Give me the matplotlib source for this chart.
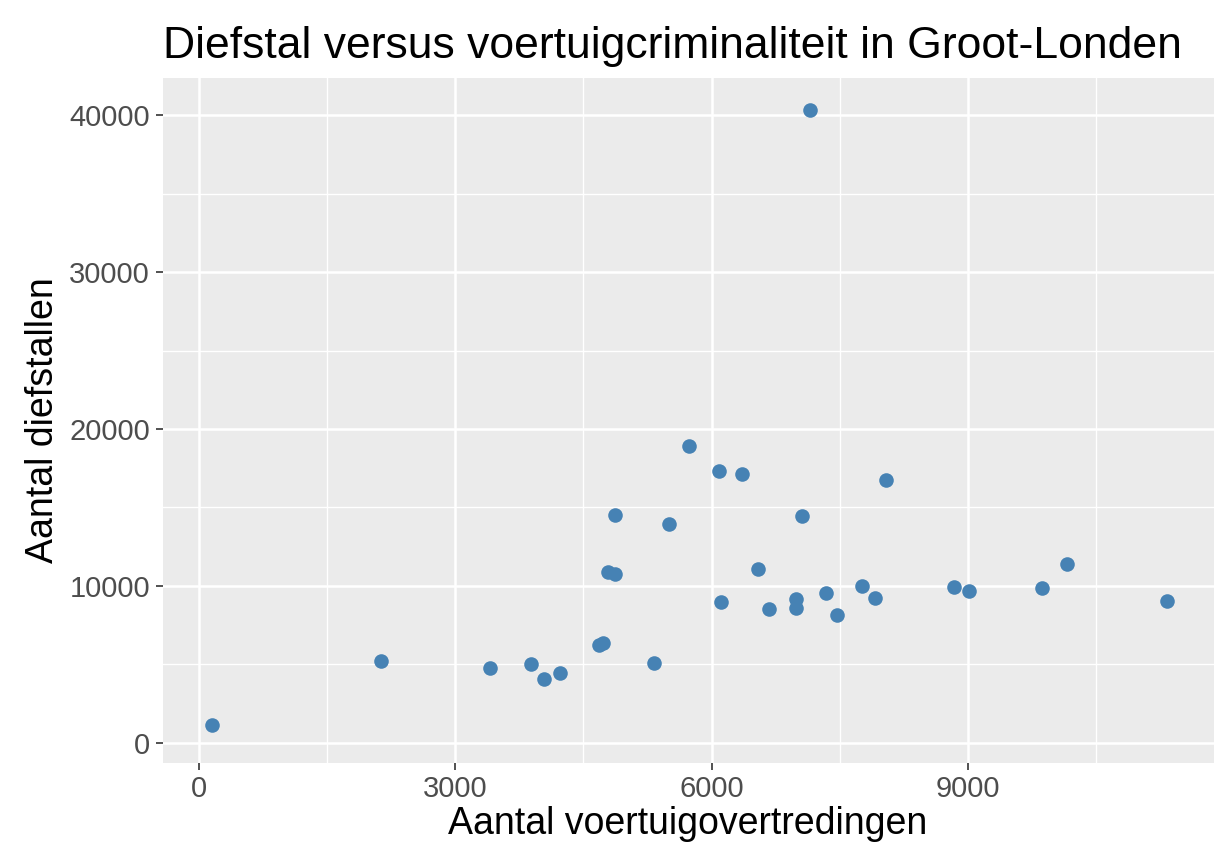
import matplotlib
matplotlib.use("Agg")
import matplotlib.pyplot as plt
from matplotlib.ticker import MultipleLocator

plt.rcParams['font.family'] = ['Liberation Sans', 'DejaVu Sans']

# Voertuigovertredingen (x) en diefstallen (y) per stadsdeel
voertuig = [152, 2136, 3408, 3887, 4039, 4226, 4681, 4727, 4786, 4867,
            4867, 5323, 5498, 5731, 6082, 6350, 6105, 6537, 6677, 6992,
            6992, 7062, 7155, 7342, 7470, 7762, 7914, 8042, 8836, 9011,
            9863, 10155, 11322]
diefstal = [1146, 5223, 4777, 5032, 4076, 4459, 6242, 6369, 10892, 10764,
            14522, 5096, 13949, 18917, 17325, 17134, 8981, 11083, 8535, 9172,
            8599, 14459, 40318, 9554, 8153, 10000, 9236, 16752, 9936, 9682,
            9873, 11401, 9045]

fig, ax = plt.subplots(figsize=(12.32, 8.64), dpi=100)
fig.subplots_adjust(left=0.132, right=0.985, top=0.91, bottom=0.117)

ax.set_facecolor('#EBEBEB')
for s in ax.spines.values():
    s.set_visible(False)

ax.scatter(voertuig, diefstal, s=110, color='steelblue', zorder=3, linewidths=0)

ax.set_xlim(-420, 11870)
ax.set_ylim(-1300, 42400)
ax.xaxis.set_major_locator(MultipleLocator(3000))
ax.xaxis.set_minor_locator(MultipleLocator(1500))
ax.yaxis.set_major_locator(MultipleLocator(10000))
ax.yaxis.set_minor_locator(MultipleLocator(5000))
ax.grid(which='major', color='white', linewidth=1.8, zorder=0)
ax.grid(which='minor', color='white', linewidth=1.0, zorder=0)
ax.set_axisbelow(True)
ax.tick_params(which='major', length=5, width=1.2, color='#333333',
               labelsize=21, labelcolor='#4D4D4D', pad=4)
ax.tick_params(which='minor', length=0)

ax.set_xlabel('Aantal voertuigovertredingen', fontsize=27, labelpad=2)
ax.set_ylabel('Aantal diefstallen', fontsize=27, labelpad=6)
ax.set_title('Diefstal versus voertuigcriminaliteit in Groot-Londen',
             fontsize=32, pad=14, loc='left')

fig.savefig('out.png', dpi=100)
